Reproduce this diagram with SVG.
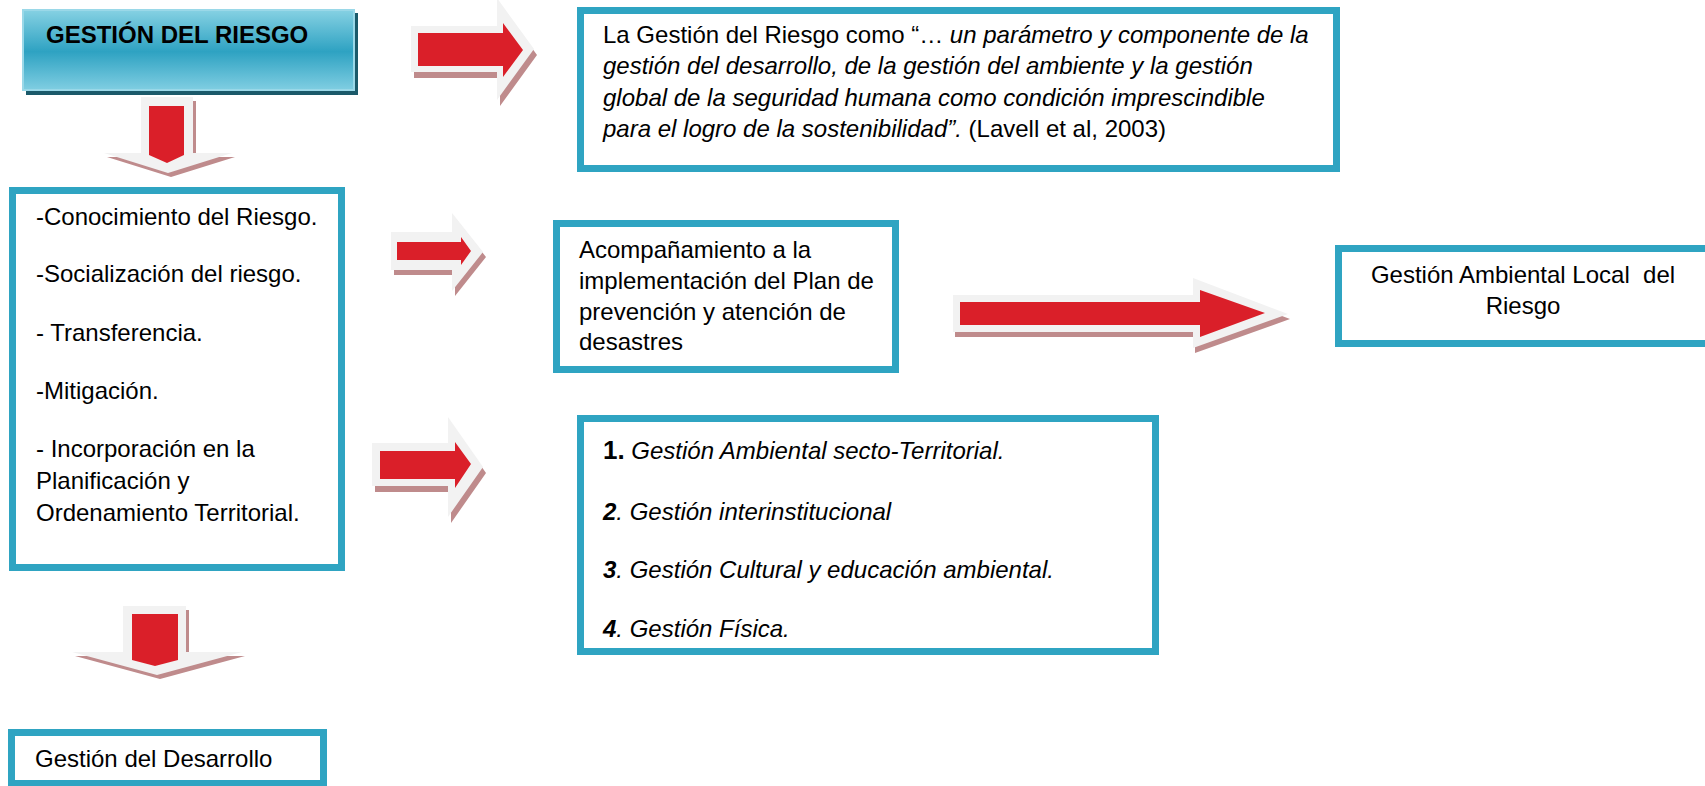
<svg xmlns="http://www.w3.org/2000/svg" width="1705" height="786" viewBox="0 0 1705 786">
<defs>
<linearGradient id="hdr" x1="0" y1="0" x2="0" y2="1">
<stop offset="0" stop-color="#86d1e3"/>
<stop offset="0.52" stop-color="#2ea2c2"/>
<stop offset="1" stop-color="#80cee2"/>
</linearGradient>
<style>
.box{fill:#ffffff;stroke:#2fa4c2;stroke-width:7}
.t{font-family:"Liberation Sans",Arial,sans-serif;font-size:24px;fill:#000}
.i{font-style:italic}
.b{font-weight:bold}
.sh{fill:#bf8b8c}
.out{fill:#f2f2f2}
.red{fill:#da1f29}
</style>
</defs>
<rect width="1705" height="786" fill="#ffffff"/>

<g id="connectors">
<g id="arrow-top">
<polygon class="sh" transform="translate(3,6)" points="411,26 497,26 497,-2 534,49 497,100 497,72 411,72"/>
<polygon class="out" points="411,26 497,26 497,-2 534,49 497,100 497,72 411,72"/>
<polygon class="red" points="418,33 503,33 503,23 523,50 503,77 503,66 418,66"/>
</g>
<g id="arrow-mid">
<polygon class="sh" transform="translate(3,5)" points="391,232 452,232 452,213 483,252 452,291 452,270 391,270"/>
<polygon class="out" points="391,232 452,232 452,213 483,252 452,291 452,270 391,270"/>
<polygon class="red" points="397,242 461,242 461,237 471,251 461,265 461,260 397,260"/>
</g>
<g id="arrow-low">
<polygon class="sh" transform="translate(3,6)" points="372,443 448,443 448,417 483,467 448,517 448,486 372,486"/>
<polygon class="out" points="372,443 448,443 448,417 483,467 448,517 448,486 372,486"/>
<polygon class="red" points="380,451 455,451 455,442 471,464 455,488 455,479 380,479"/>
</g>
<g id="arrow-big">
<polygon class="sh" transform="translate(2,5)" points="953,295 1193,295 1193,278 1288,314 1193,348 1193,332 953,332"/>
<polygon class="out" points="953,295 1193,295 1193,278 1288,314 1193,348 1193,332 953,332"/>
<polygon class="red" points="960,302 1200,302 1200,290 1265,313 1200,337 1200,325 960,325"/>
</g>
<g id="arrow-down1">
<polygon class="sh" transform="translate(3,4)" points="141,97 193,97 193,153 232,153 168,173 104,153 141,153"/>
<polygon class="out" points="141,97 193,97 193,153 232,153 168,173 104,153 141,153"/>
<polygon class="red" points="149,106 184,106 184,155 167,163 149,155"/>
</g>
<g id="arrow-down2">
<polygon class="sh" transform="translate(3,4)" points="123,606 186,606 186,652 242,652 157,675 72,652 123,652"/>
<polygon class="out" points="123,606 186,606 186,652 242,652 157,675 72,652 123,652"/>
<polygon class="red" points="132,614 178,614 178,660 155,666 132,660"/>
</g>
</g>

<g id="gestion-riesgo">
<rect x="26" y="13" width="332" height="82" fill="#1b5a6a"/>
<rect x="23" y="10" width="331" height="80" fill="url(#hdr)" stroke="#9ad8e8" stroke-width="2"/>
<text class="t b" x="46" y="43">GESTIÓN DEL RIESGO</text>
</g>

<g id="quote">
<rect class="box" x="580.5" y="10.5" width="756" height="158"/>
<text class="t" x="603" y="43">La Gestión del Riesgo como “… <tspan class="i">un parámetro y componente de la</tspan></text>
<text class="t i" x="603" y="74">gestión del desarrollo, de la gestión del ambiente y la gestión</text>
<text class="t i" x="603" y="106">global de la seguridad humana como condición imprescindible</text>
<text class="t" x="603" y="137"><tspan class="i">para el logro de la sostenibilidad”.</tspan> (Lavell et al, 2003)</text>
</g>

<g id="lista">
<rect class="box" x="12.5" y="190.5" width="329" height="377"/>
<text class="t" x="36" y="225">-Conocimiento del Riesgo.</text>
<text class="t" x="36" y="282">-Socialización del riesgo.</text>
<text class="t" x="36" y="341">- Transferencia.</text>
<text class="t" x="36" y="399">-Mitigación.</text>
<text class="t" x="36" y="457">- Incorporación en la</text>
<text class="t" x="36" y="489">Planificación y</text>
<text class="t" x="36" y="521">Ordenamiento Territorial.</text>
</g>

<g id="acompanamiento">
<rect class="box" x="556.5" y="223.5" width="339" height="146"/>
<text class="t" x="579" y="258">Acompañamiento a la</text>
<text class="t" x="579" y="289">implementación del Plan de</text>
<text class="t" x="579" y="320">prevención y atención de</text>
<text class="t" x="579" y="350">desastres</text>
</g>

<g id="gestion-ambiental-local">
<rect class="box" x="1338.5" y="248.5" width="370" height="95"/>
<text class="t" x="1523" y="283" text-anchor="middle" xml:space="preserve">Gestión Ambiental Local  del</text>
<text class="t" x="1523" y="314" text-anchor="middle">Riesgo</text>
</g>

<g id="numerada">
<rect class="box" x="580.5" y="418.5" width="575" height="233"/>
<text class="t" x="603" y="459"><tspan class="b" font-size="26">1.</tspan><tspan class="i"> Gestión Ambiental secto-Territorial.</tspan></text>
<text class="t i" x="603" y="520"><tspan class="b">2</tspan>. Gestión interinstitucional</text>
<text class="t i" x="603" y="578"><tspan class="b">3</tspan>. Gestión Cultural y educación ambiental.</text>
<text class="t i" x="603" y="637"><tspan class="b">4</tspan>. Gestión Física.</text>
</g>

<g id="desarrollo">
<rect class="box" x="11.5" y="732.5" width="312" height="51"/>
<text class="t" x="35" y="767">Gestión del Desarrollo</text>
</g>
</svg>
